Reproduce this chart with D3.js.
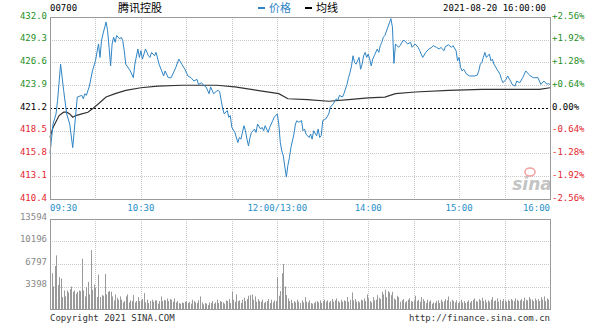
<!DOCTYPE html>
<html>
<head>
<meta charset="utf-8">
<script src="https://cdn.jsdelivr.net/npm/d3@7"></script>
<style>
body { margin: 0; background: #fff; }
text { font-family: "DejaVu Sans Mono", monospace; font-size: 9px; }
.cjk { font-family: "Noto Sans CJK SC", sans-serif; font-size: 11px; }
</style>
</head>
<body>
<div id="chart"></div>
<script>
// 腾讯控股 00700 intraday, 2021-08-20
var prevClose = 421.2
var priceTicks = [432.0, 429.3, 426.6, 423.9, 421.2, 418.5, 415.8, 413.1, 410.4]
var volumeTicks = [13594, 10196, 6797, 3398]
var timeTicks = [0, 60, 150, 210, 270, 330]   // minutes since 09:30 (lunch break removed)
var timeLabels = ["09:30", "10:30", "12:00/13:00", "14:00", "15:00", "16:00"]

var priceMinute = [0,2,4,5,7,9,11,13,15,17,18,21,22,23,24,26,28,30,32,33,34,35,37,38,39,40,41,42,43,44,46,47,48,49,50,53,55,56,58,59,
  60,61,63,65,66,67,69,70,72,75,76,78,80,83,85,87,89,91,93,95,97,98,100,102,103,105,106,108,110,111,112,113,114,115,117,118,119,
  120,122,124,125,126,128,129,130,131,132,133,135,136,137,139,140,141,142,144,145,146,147,148,150,151,152,153,154,155,156,157,158,159,
  161,162,163,164,166,167,168,169,171,172,173,174,176,177,178,179,180,182,184,185,187,189,190,191,193,194,196,197,198,199,
  200,201,202,204,205,206,207,208,209,210,211,212,213,214,216,217,218,219,220,221,223,225,226,227,228,230,231,233,234,236,238,239,
  241,243,244,246,248,250,252,253,255,257,258,260,261,263,265,266,268,269,270,271,272,273,275,277,280,282,283,284,285,286,287,288,
  290,291,292,293,295,297,298,299,301,302,304,305,307,308,310,312,314,316,317,319,322,323,324,326,328,329,330]
var price = [415.8,419.3,420.5,422.1,426.4,423.3,420.5,419.3,416.5,420.5,422.5,422.7,422.3,422.9,422.7,423.8,425.6,426.8,428.8,427.2,429.2,430.0,431.4,430.4,428.4,426.2,428.8,429.6,429.0,429.8,429.4,429.6,429.2,428.0,426.4,425.6,424.8,426.4,428.2,427.2,
  428.0,427.0,428.2,427.4,427.2,427.8,427.4,427.8,426.4,425.0,425.6,424.8,424.8,426.0,427.0,426.4,425.8,425.0,424.8,424.4,424.6,424.0,424.2,423.8,423.7,422.9,423.7,422.9,423.2,423.3,423.1,422.1,421.1,420.5,420.9,420.1,420.3,
  418.9,418.3,417.1,417.7,417.5,419.1,418.5,417.5,416.7,417.7,418.3,418.7,418.3,419.3,418.7,418.9,418.5,419.1,418.3,418.9,419.3,419.7,420.1,420.5,419.3,417.1,416.1,415.5,414.2,413.0,414.4,415.3,416.5,
  418.1,419.3,419.7,419.5,419.7,418.5,418.7,418.1,417.7,418.1,417.5,418.5,417.9,418.7,417.7,417.9,419.7,419.9,420.5,421.3,421.7,422.3,422.1,422.7,422.5,422.9,424.0,424.8,425.4,426.2,
  427.4,426.6,426.4,427.2,425.8,426.4,427.4,427.8,427.2,427.6,427.0,426.2,427.0,427.4,428.2,427.8,428.6,429.0,429.6,429.8,430.8,431.8,430.8,426.5,428.8,428.4,428.6,429.2,429.2,428.8,429.0,428.4,
  428.8,428.4,428.0,427.2,427.8,428.2,428.4,428.6,428.4,428.2,428.4,428.0,428.5,428.7,428.4,428.6,428.0,426.8,427.2,426.0,425.6,425.8,425.2,425.0,425.0,425.1,425.6,426.4,426.6,427.2,427.8,427.2,
  427.6,426.8,427.0,426.4,425.8,425.2,424.6,424.2,424.6,425.0,424.4,424.0,423.8,424.4,424.2,424.8,425.6,425.2,425.0,424.8,424.8,424.4,424.0,424.4,424.0,424.1,424.0]

var avgMinute = [0,2,6,9,11,13,15,17,21,25,28,32,37,43,50,60,71,87,110,122,140,151,157,170,184,197,210,221,228,241,263,285,307,323,330]
var avgPrice = [417.7,418.9,420.3,420.7,420.7,420.5,420.1,420.3,420.5,420.7,421.1,421.7,422.5,422.9,423.3,423.6,423.8,423.9,423.9,423.7,423.2,422.9,422.3,422.2,422.0,422.2,422.4,422.5,422.9,423.1,423.3,423.4,423.4,423.4,423.6]

// per-minute volume, in hundreds of shares
var volumeHundreds = [50,54,34,65,81,36,48,46,18,28, 19,28,25,30,34,26,28,23,26,28, 27,76,28,19,33,41,22,89,29,37,
  32,18,52,18,21,20,53,22,26,27, 26,19,13,22,17,14,19,14,10,12, 19,22,10,13,12,21,10,12,18,12,
  13,15,24,10,14,9,12,14,11,13, 13,8,12,19,12,14,13,16,12,15, 14,11,16,10,12,9,8,10,9,11,
  12,9,11,8,14,12,10,9,13,19, 10,7,9,8,6,10,9,12,8,10, 14,9,12,11,10,8,13,12,15,9,
  26,14,11,22,12,13,9,14,17,12, 15,20,21,22,14,19,11,15,12,11, 14,9,11,12,15,9,14,10,13,12,
  48,20,27,54,68,34,21,16,12,14, 9,12,10,14,11,9,13,10,18,11, 10,13,9,8,9,11,12,10,13,9,
  12,14,11,13,10,12,15,11,13,16, 12,10,14,11,13,12,18,11,14,25, 13,15,11,12,10,14,13,16,12,22,
  16,12,10,18,13,14,21,17,15,26, 22,29,18,27,25,21,26,16,14,20, 18,11,13,15,10,12,14,16,12,11,
  13,20,12,14,11,18,15,12,9,14, 11,13,8,10,9,12,13,9,14,11, 12,15,13,19,11,14,12,10,13,9,
  11,14,10,12,9,11,13,10,12,14, 16,12,11,15,13,17,12,14,10,13, 11,14,18,12,13,16,11,14,12,15,
  13,11,14,12,15,13,12,16,14,12, 13,15,12,17,14,13,18,15,14,12, 16,13,15,12,18,14,19,12,16,14]

var upColor = "#1f8f1f", downColor = "#e3262e", timeColor = "#2a8fc8"

var svg = d3.select("#chart").append("svg")
  .attr("width", 600)
  .attr("height", 327)

var x = d3.scaleLinear().domain([0, 330]).range([50, 550])
var y = d3.scaleLinear().domain([410.4, 432.0]).range([199, 17])
var yv = d3.scaleLinear().domain([0, 13594]).range([309, 219])

function crisp(v) { return Math.round(v) + 0.5 }

var gridMinutes = d3.range(30, 330, 30)

// ---- grid, price panel
svg.selectAll(".hgrid")
  .data(priceTicks.filter(function (d) { return d != 432.0 && d != 410.4 && d != prevClose }))
  .enter().append("line")
    .attr("x1", 50).attr("x2", 550)
    .attr("y1", function (d) { return crisp(y(d)) })
    .attr("y2", function (d) { return crisp(y(d)) })
    .attr("stroke", "#c8c8c8").attr("stroke-dasharray", "1,1")

svg.selectAll(".vgrid")
  .data(gridMinutes)
  .enter().append("line")
    .attr("x1", function (d) { return crisp(x(d)) })
    .attr("x2", function (d) { return crisp(x(d)) })
    .attr("y1", 17).attr("y2", 199)
    .attr("stroke", "#c8c8c8").attr("stroke-dasharray", "1,1")

// ---- grid, volume panel
svg.selectAll(".vhgrid")
  .data(volumeTicks.slice(1))
  .enter().append("line")
    .attr("x1", 50).attr("x2", 550)
    .attr("y1", function (d) { return crisp(yv(d)) })
    .attr("y2", function (d) { return crisp(yv(d)) })
    .attr("stroke", "#c8c8c8").attr("stroke-dasharray", "1,1")

svg.selectAll(".vvgrid")
  .data(gridMinutes)
  .enter().append("line")
    .attr("x1", function (d) { return crisp(x(d)) })
    .attr("x2", function (d) { return crisp(x(d)) })
    .attr("y1", 219).attr("y2", 309)
    .attr("stroke", "#c8c8c8").attr("stroke-dasharray", "1,1")

// sina watermark
svg.append("ellipse")
  .attr("cx", 530).attr("cy", 172).attr("rx", 5).attr("ry", 4)
  .attr("fill", "none").attr("stroke", "#f0a0a0").attr("stroke-width", 1.5)
svg.append("text")
  .attr("x", 532).attr("y", 190)
  .attr("text-anchor", "middle")
  .style("font-family", "'DejaVu Sans', sans-serif")
  .style("font-size", "17px").style("font-style", "italic").style("font-weight", "bold")
  .attr("fill", "#c4c4c4")
  .text("sina")

// ---- volume bars
svg.selectAll(".vol")
  .data(volumeHundreds)
  .enter().append("rect")
    .attr("x", function (d, i) { return Math.round(x(i)) })
    .attr("width", 1)
    .attr("y", function (d) { return yv(d * 100) })
    .attr("height", function (d) { return 309 - yv(d * 100) })
    .attr("fill", "#9a9a9a")

// ---- prev close line
svg.append("line")
  .attr("x1", 50).attr("x2", 550)
  .attr("y1", crisp(y(prevClose))).attr("y2", crisp(y(prevClose)))
  .attr("stroke", "#000").attr("stroke-dasharray", "2,2")

// ---- lines
var priceLine = d3.line()
  .x(function (d, i) { return x(priceMinute[i]) })
  .y(function (d) { return y(d) })
var avgLine = d3.line()
  .x(function (d, i) { return x(avgMinute[i]) })
  .y(function (d) { return y(d) })

svg.append("path")
  .attr("d", avgLine(avgPrice))
  .attr("fill", "none").attr("stroke", "#333").attr("stroke-width", 1.2)

svg.append("path")
  .attr("d", priceLine(price))
  .attr("fill", "none").attr("stroke", "#2f84c4").attr("stroke-width", 1)

// ---- borders
svg.append("rect").attr("x", 50.5).attr("y", 17.5).attr("width", 500).attr("height", 182)
  .attr("fill", "none").attr("stroke", "#999")
svg.append("rect").attr("x", 50.5).attr("y", 219.5).attr("width", 500).attr("height", 90)
  .attr("fill", "none").attr("stroke", "#999")

// ---- axis labels
function tickColor(d) { return d > prevClose ? upColor : (d < prevClose ? downColor : "#000") }

svg.selectAll(".ylab")
  .data(priceTicks)
  .enter().append("text")
    .attr("x", 47).attr("y", function (d) { return y(d) + 1.5 })
    .attr("text-anchor", "end")
    .attr("fill", tickColor)
    .text(function (d) { return d.toFixed(1) })

svg.selectAll(".pctlab")
  .data(priceTicks)
  .enter().append("text")
    .attr("x", 552).attr("y", function (d) { return y(d) + 1.5 })
    .attr("fill", tickColor)
    .text(function (d) {
      var p = (d / prevClose - 1) * 100
      return (p > 0.001 ? "+" : "") + p.toFixed(2) + "%"
    })

svg.selectAll(".vlab")
  .data(volumeTicks)
  .enter().append("text")
    .attr("x", 47).attr("y", function (d) { return yv(d) + 0.5 })
    .attr("text-anchor", "end")
    .attr("fill", "#888")
    .text(function (d) { return d })

svg.selectAll(".tlab")
  .data(timeTicks)
  .enter().append("text")
    .attr("x", function (d) { return x(d) })
    .attr("y", 210.5)
    .attr("text-anchor", function (d, i) { return i == 0 ? "start" : (i == timeTicks.length - 1 ? "end" : "middle") })
    .attr("fill", timeColor)
    .text(function (d, i) { return timeLabels[i] })

// ---- header
svg.append("text").attr("x", 50).attr("y", 10.5).attr("fill", "#000").text("00700")
svg.append("text").attr("class", "cjk").attr("x", 140).attr("y", 12).attr("text-anchor", "middle").text("腾讯控股")

svg.append("line").attr("x1", 258).attr("x2", 265).attr("y1", 8).attr("y2", 8)
  .attr("stroke", "#2f84c4").attr("stroke-width", 2)
svg.append("text").attr("class", "cjk").attr("x", 269).attr("y", 12).attr("fill", "#2f84c4").text("价格")
svg.append("line").attr("x1", 305).attr("x2", 312).attr("y1", 8).attr("y2", 8)
  .attr("stroke", "#000").attr("stroke-width", 2)
svg.append("text").attr("class", "cjk").attr("x", 316).attr("y", 12).attr("fill", "#000").text("均线")

svg.append("text").attr("x", 546).attr("y", 10.5).attr("text-anchor", "end").text("2021-08-20 16:00:00")

// ---- footer
svg.append("text").attr("x", 50).attr("y", 320.5).attr("fill", "#333").text("Copyright 2021 SINA.COM")
svg.append("text").attr("x", 550).attr("y", 320.5).attr("text-anchor", "end").attr("fill", "#333").text("http://finance.sina.com.cn")
</script>
</body>
</html>
